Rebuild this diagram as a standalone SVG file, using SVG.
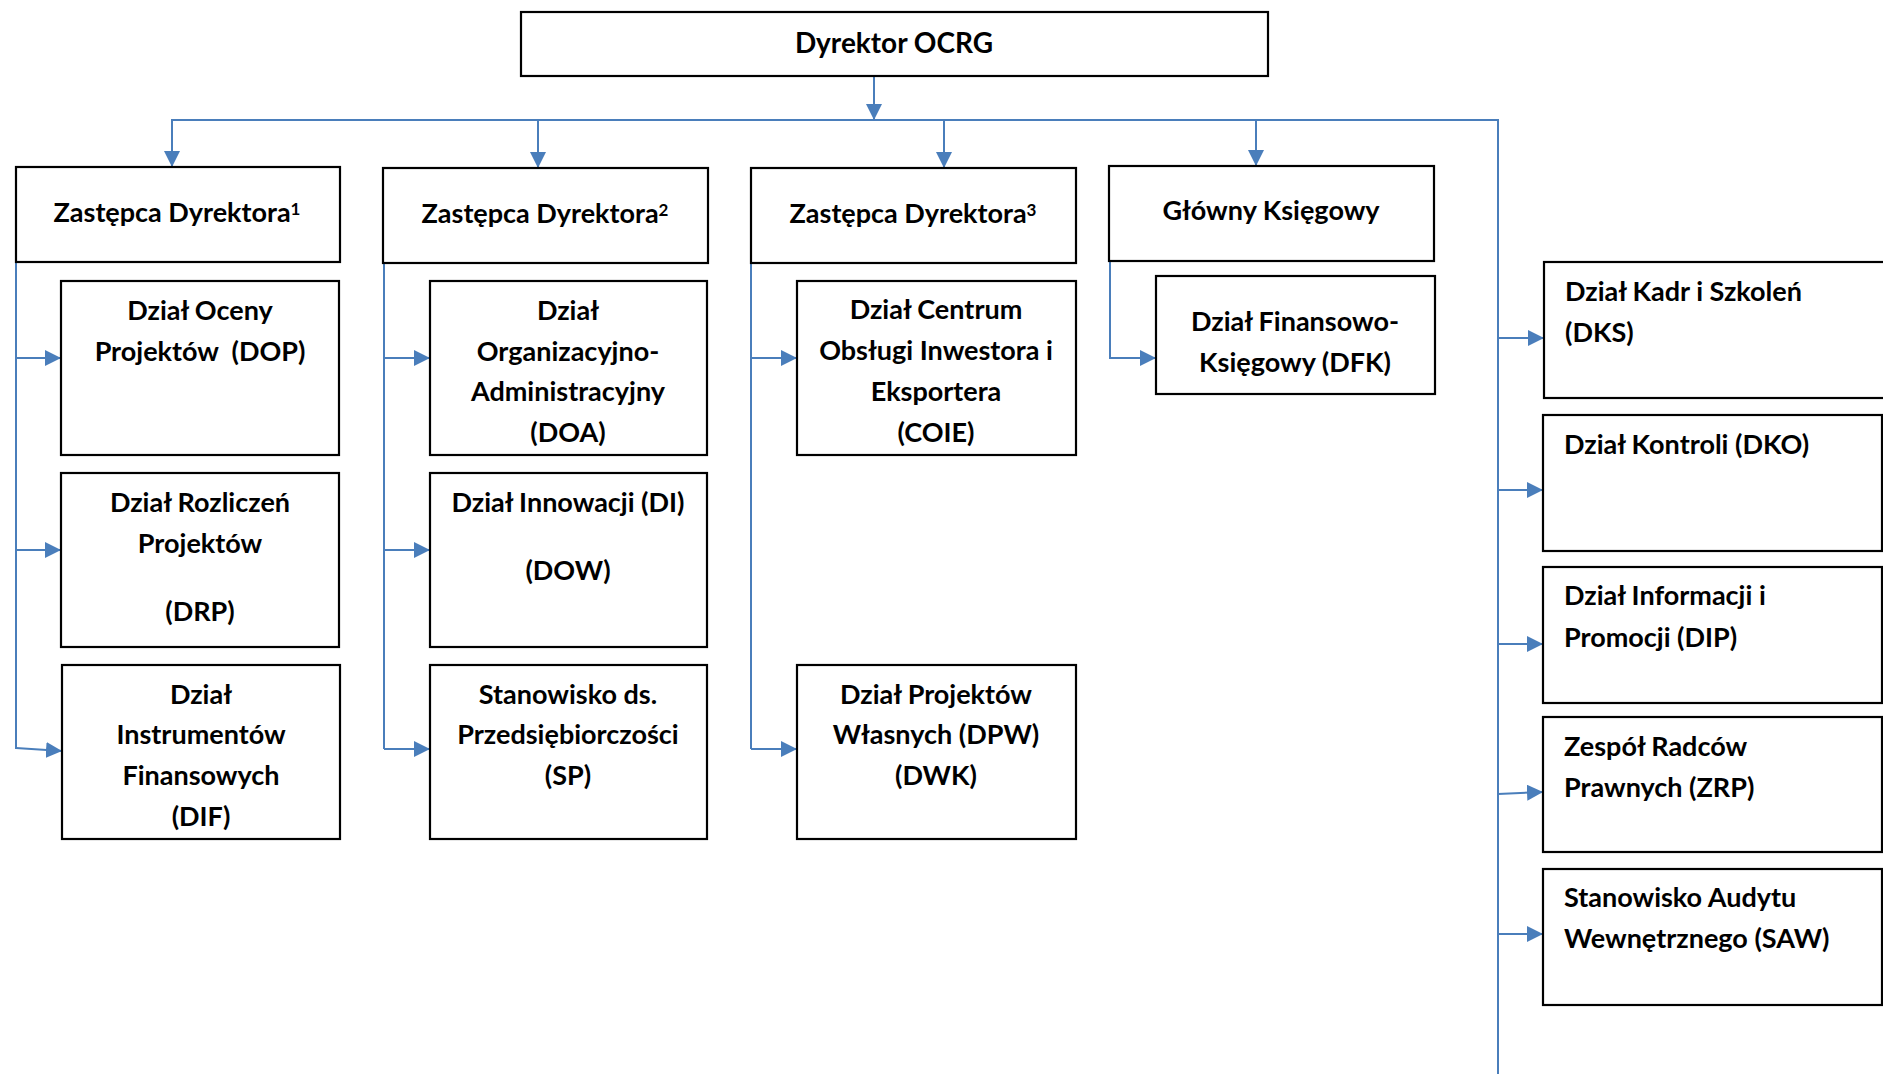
<svg xmlns="http://www.w3.org/2000/svg" width="1883" height="1074" viewBox="0 0 1883 1074">
<defs>
<style>
.box{fill:#fff;stroke:#000;stroke-width:2.2}
.t{font-family:Lato,"Open Sans","Liberation Sans",sans-serif;font-weight:bold;font-size:27px;fill:#000}
.c{text-anchor:middle}
.sup{font-size:17px}
.con{fill:none;stroke:#4A7EBB;stroke-width:2}
</style>
<marker id="ah" markerUnits="userSpaceOnUse" markerWidth="16" markerHeight="16" refX="16" refY="8" orient="auto">
<path d="M0,0 L16,8 L0,16 Z" fill="#4A7EBB"/>
</marker>
</defs>
<rect width="1883" height="1074" fill="#fff"/>

<g id="connectors">
<path class="con" d="M874,76 V120" marker-end="url(#ah)"/>
<path class="con" d="M172,166 V120 H1498 V1074"/>
<path class="con" d="M172,120 V167" marker-end="url(#ah)"/>
<path class="con" d="M538,120 V168" marker-end="url(#ah)"/>
<path class="con" d="M944,120 V168" marker-end="url(#ah)"/>
<path class="con" d="M1256,120 V166" marker-end="url(#ah)"/>
<path class="con" d="M16,262 V749"/>
<path class="con" d="M16,358 H61" marker-end="url(#ah)"/>
<path class="con" d="M16,550 H61" marker-end="url(#ah)"/>
<path class="con" d="M16,748 L62,751" marker-end="url(#ah)"/>
<path class="con" d="M384,263 V749"/>
<path class="con" d="M384,358 H430" marker-end="url(#ah)"/>
<path class="con" d="M384,550 H430" marker-end="url(#ah)"/>
<path class="con" d="M384,749 H430" marker-end="url(#ah)"/>
<path class="con" d="M751,263 V749"/>
<path class="con" d="M751,358 H797" marker-end="url(#ah)"/>
<path class="con" d="M751,749 H797" marker-end="url(#ah)"/>
<path class="con" d="M1110,261 V358 H1156" marker-end="url(#ah)"/>
<path class="con" d="M1498,338 H1544" marker-end="url(#ah)"/>
<path class="con" d="M1498,490 H1543" marker-end="url(#ah)"/>
<path class="con" d="M1498,644 H1543" marker-end="url(#ah)"/>
<path class="con" d="M1498,794 L1543,792" marker-end="url(#ah)"/>
<path class="con" d="M1498,934 H1543" marker-end="url(#ah)"/>
</g>

<g id="dyrektor">
<rect class="box" x="521" y="12" width="747" height="64"/>
<text class="t c" x="894" y="53" style="font-size:28px">Dyrektor OCRG</text>
</g>

<g id="zastepca1">
<rect class="box" x="16" y="167" width="324" height="95"/>
<text class="t c" x="177" y="222">Zastępca Dyrektora<tspan class="sup" dy="-7">1</tspan></text>
</g>
<g id="zastepca2">
<rect class="box" x="383" y="168" width="325" height="95"/>
<text class="t c" x="545" y="223">Zastępca Dyrektora<tspan class="sup" dy="-7">2</tspan></text>
</g>
<g id="zastepca3">
<rect class="box" x="751" y="168" width="325" height="95"/>
<text class="t c" x="913" y="223">Zastępca Dyrektora<tspan class="sup" dy="-7">3</tspan></text>
</g>
<g id="glowny-ksiegowy">
<rect class="box" x="1109" y="166" width="325" height="95"/>
<text class="t c" x="1271" y="220">Główny Księgowy</text>
</g>

<g id="dop">
<rect class="box" x="61" y="281" width="278" height="174"/>
<text class="t c" x="200" y="320">Dział Oceny</text>
<text class="t c" x="200" y="361" xml:space="preserve">Projektów  (DOP)</text>
</g>
<g id="drp">
<rect class="box" x="61" y="473" width="278" height="174"/>
<text class="t c" x="200" y="512">Dział Rozliczeń</text>
<text class="t c" x="200" y="553">Projektów</text>
<text class="t c" x="200" y="621">(DRP)</text>
</g>
<g id="dif">
<rect class="box" x="62" y="665" width="278" height="174"/>
<text class="t c" x="201" y="704">Dział</text>
<text class="t c" x="201" y="744">Instrumentów</text>
<text class="t c" x="201" y="785">Finansowych</text>
<text class="t c" x="201" y="826">(DIF)</text>
</g>

<g id="doa">
<rect class="box" x="430" y="281" width="277" height="174"/>
<text class="t c" x="568" y="320">Dział</text>
<text class="t c" x="568" y="361">Organizacyjno-</text>
<text class="t c" x="568" y="401">Administracyjny</text>
<text class="t c" x="568" y="442">(DOA)</text>
</g>
<g id="di">
<rect class="box" x="430" y="473" width="277" height="174"/>
<text class="t c" x="568" y="512">Dział Innowacji (DI)</text>
<text class="t c" x="568" y="580">(DOW)</text>
</g>
<g id="sp">
<rect class="box" x="430" y="665" width="277" height="174"/>
<text class="t c" x="568" y="704">Stanowisko ds.</text>
<text class="t c" x="568" y="744">Przedsiębiorczości</text>
<text class="t c" x="568" y="785">(SP)</text>
</g>

<g id="coie">
<rect class="box" x="797" y="281" width="279" height="174"/>
<text class="t c" x="936" y="319">Dział Centrum</text>
<text class="t c" x="936" y="360">Obsługi Inwestora i</text>
<text class="t c" x="936" y="401">Eksportera</text>
<text class="t c" x="936" y="442">(COIE)</text>
</g>
<g id="dpw">
<rect class="box" x="797" y="665" width="279" height="174"/>
<text class="t c" x="936" y="704">Dział Projektów</text>
<text class="t c" x="936" y="744">Własnych (DPW)</text>
<text class="t c" x="936" y="785">(DWK)</text>
</g>

<g id="dfk">
<rect class="box" x="1156" y="276" width="279" height="118"/>
<text class="t c" x="1295" y="331">Dział Finansowo-</text>
<text class="t c" x="1295" y="372">Księgowy (DFK)</text>
</g>

<g id="dks">
<rect class="box" x="1544" y="262" width="350" height="136"/>
<text class="t" x="1565" y="301">Dział Kadr i Szkoleń</text>
<text class="t" x="1565" y="342">(DKS)</text>
</g>
<g id="dko">
<rect class="box" x="1543" y="415" width="339" height="136"/>
<text class="t" x="1564" y="454">Dział Kontroli (DKO)</text>
</g>
<g id="dip">
<rect class="box" x="1543" y="567" width="339" height="136"/>
<text class="t" x="1564" y="605">Dział Informacji i</text>
<text class="t" x="1564" y="647">Promocji (DIP)</text>
</g>
<g id="zrp">
<rect class="box" x="1543" y="717" width="339" height="135"/>
<text class="t" x="1564" y="756">Zespół Radców</text>
<text class="t" x="1564" y="797">Prawnych (ZRP)</text>
</g>
<g id="saw">
<rect class="box" x="1543" y="869" width="339" height="136"/>
<text class="t" x="1564" y="907">Stanowisko Audytu</text>
<text class="t" x="1564" y="948">Wewnętrznego (SAW)</text>
</g>
</svg>
